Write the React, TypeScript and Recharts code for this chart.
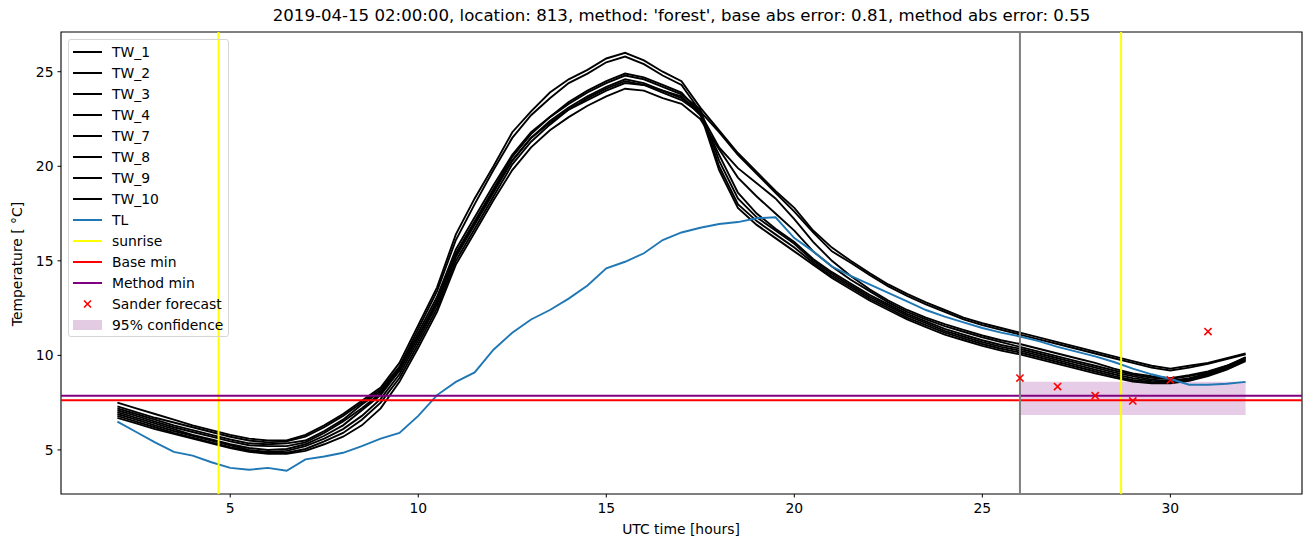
import React from "react";
import {
  ComposedChart,
  Line,
  Scatter,
  XAxis,
  YAxis,
  ReferenceLine,
  ReferenceArea,
  Legend,
} from "recharts";

// hours since midnight of the forecast day, every 30 min
const hours = [
  2, 2.5, 3, 3.5, 4, 4.5, 5, 5.5, 6, 6.5,
  7, 7.5, 8, 8.5, 9, 9.5, 10, 10.5, 11, 11.5,
  12, 12.5, 13, 13.5, 14, 14.5, 15, 15.5, 16, 16.5,
  17, 17.5, 18, 18.5, 19, 19.5, 20, 20.5, 21, 21.5,
  22, 22.5, 23, 23.5, 24, 24.5, 25, 25.5, 26, 26.5,
  27, 27.5, 28, 28.5, 29, 29.5, 30, 30.5, 31, 31.5, 32,
];

const tw1 = [
  7.5, 7.2, 6.9, 6.6, 6.3, 6.05, 5.8, 5.6, 5.5, 5.5,
  5.8, 6.3, 6.9, 7.6, 8.3, 9.6, 11.6, 13.6, 16.4, 18.3,
  20.0, 21.8, 22.9, 23.9, 24.6, 25.1, 25.7, 26.0, 25.6, 25.0,
  24.5, 23.1, 21.9, 20.7, 19.7, 18.7, 17.8, 16.6, 15.7, 15.0,
  14.35, 13.75, 13.25, 12.8, 12.4, 12.0, 11.7, 11.45, 11.2, 10.95,
  10.7, 10.45, 10.2, 9.95, 9.7, 9.45, 9.3, 9.45, 9.6, 9.85, 10.1,
];
const tw2 = [
  7.3, 7.0, 6.7, 6.45, 6.2, 5.95, 5.7, 5.5, 5.4, 5.45,
  5.7, 6.2, 6.8, 7.5, 8.2, 9.4, 11.4, 13.4, 16.1, 18.0,
  19.8, 21.5, 22.7, 23.6, 24.4, 24.9, 25.5, 25.8, 25.4, 24.8,
  24.3, 22.9, 21.8, 20.6, 19.6, 18.6, 17.6, 16.5, 15.5, 14.9,
  14.25, 13.65, 13.15, 12.7, 12.3, 11.9, 11.6, 11.35, 11.1, 10.85,
  10.6, 10.35, 10.1, 9.85, 9.6, 9.35, 9.2, 9.35, 9.55, 9.8, 10.05,
];
const tw3 = [
  7.2, 6.9, 6.6, 6.3, 6.05, 5.8, 5.55, 5.35, 5.3, 5.35,
  5.5, 6.0, 6.6, 7.4, 8.1, 9.3, 11.2, 13.1, 15.6, 17.3,
  19.0, 20.6, 21.8, 22.6, 23.4, 24.0, 24.5, 24.9, 24.7, 24.3,
  23.9, 22.8, 21.0, 19.9, 19.1, 18.3, 17.2, 16.0, 15.0, 14.2,
  13.5, 12.9, 12.4, 12.0, 11.65, 11.35, 11.05, 10.8, 10.6, 10.35,
  10.1, 9.85, 9.6, 9.3, 9.05, 8.9, 8.8, 8.95, 9.15, 9.45, 9.85,
];
const tw4 = [
  7.0, 6.7, 6.4, 6.1, 5.8, 5.55, 5.3, 5.1, 5.0, 5.05,
  5.3, 5.75, 6.3, 7.1, 7.9, 9.2, 11.0, 12.9, 15.4, 17.1,
  18.8, 20.5, 21.7, 22.6, 23.3, 23.9, 24.4, 24.8, 24.6, 24.2,
  23.8, 23.0, 20.3, 18.3, 17.3, 16.6, 15.9, 15.0, 14.3, 13.7,
  13.1, 12.6, 12.1, 11.7, 11.3, 11.0, 10.7, 10.45, 10.25, 10.0,
  9.75, 9.5, 9.25, 9.0, 8.8, 8.65, 8.6, 8.75, 9.0, 9.35, 9.8,
];
const tw7 = [
  6.9, 6.6, 6.3, 6.0, 5.75, 5.5, 5.25, 5.0, 4.9, 4.95,
  5.2, 5.6, 6.1, 6.8, 7.7, 9.0, 10.8, 12.7, 15.2, 16.9,
  18.6, 20.3, 21.5, 22.4, 23.1, 23.7, 24.2, 24.6, 24.4, 24.0,
  23.6, 22.9, 20.0, 18.0, 17.1, 16.4, 15.7, 14.9, 14.2, 13.6,
  13.0, 12.5, 12.0, 11.6, 11.2, 10.9, 10.6, 10.35, 10.15, 9.9,
  9.65, 9.4, 9.15, 8.9, 8.7, 8.58, 8.55, 8.7, 8.95, 9.3, 9.75,
];
const tw8 = [
  6.8, 6.5, 6.2, 5.9, 5.65, 5.4, 5.15, 4.95, 4.85, 4.85,
  5.05, 5.45, 5.9, 6.6, 7.5, 8.8, 10.6, 12.5, 15.0, 16.7,
  18.4, 20.1, 21.3, 22.2, 23.0, 23.6, 24.1, 24.5, 24.3, 23.9,
  23.5, 22.8, 19.8, 17.8, 16.9, 16.2, 15.5, 14.8, 14.1, 13.5,
  12.9, 12.4, 11.9, 11.5, 11.1, 10.8, 10.5, 10.25, 10.05, 9.8,
  9.55, 9.3, 9.05, 8.82, 8.62, 8.52, 8.52, 8.65, 8.9, 9.25, 9.7,
];
const tw9 = [
  7.1, 6.8, 6.5, 6.2, 5.95, 5.7, 5.45, 5.25, 5.2, 5.2,
  5.4, 5.9, 6.5, 7.2, 8.0, 9.2, 11.0, 12.8, 15.3, 17.0,
  18.7, 20.3, 21.5, 22.3, 23.0, 23.5, 24.0, 24.4, 24.3, 24.0,
  23.7, 22.7, 20.6, 18.6, 17.5, 16.7, 16.0, 15.1, 14.4, 13.8,
  13.2, 12.7, 12.2, 11.8, 11.4, 11.1, 10.8, 10.55, 10.35, 10.1,
  9.85, 9.6, 9.35, 9.1, 8.9, 8.72, 8.65, 8.8, 9.05, 9.4, 9.9,
];
const tw10 = [
  6.7, 6.4, 6.1, 5.85, 5.6, 5.35, 5.1, 4.9, 4.8, 4.8,
  4.95, 5.3, 5.7, 6.3, 7.2, 8.6, 10.4, 12.3, 14.8, 16.5,
  18.2, 19.8, 21.0, 21.9, 22.6, 23.2, 23.7, 24.1, 24.0, 23.6,
  23.3, 22.5, 20.9, 19.4, 18.4, 17.5, 16.6, 15.5, 14.7, 14.0,
  13.4, 12.8, 12.3, 11.9, 11.55, 11.25, 10.95, 10.7, 10.45, 10.2,
  9.95, 9.7, 9.45, 9.2, 8.98, 8.82, 8.75, 8.9, 9.1, 9.45, 9.9,
];
const tl = [
  6.5, 5.95, 5.4, 4.9, 4.7, 4.35, 4.05, 3.95, 4.05, 3.9,
  4.5, 4.65, 4.85, 5.2, 5.6, 5.9, 6.8, 7.9, 8.6, 9.1,
  10.3, 11.2, 11.9, 12.4, 13.0, 13.7, 14.6, 14.95, 15.4, 16.1,
  16.5, 16.75, 16.95, 17.05, 17.25, 17.3, 16.2, 15.5, 14.7, 14.2,
  13.75, 13.3, 12.85, 12.4, 12.05, 11.75, 11.45, 11.2, 11.0, 10.75,
  10.45, 10.2, 9.95, 9.65, 9.3, 9.0, 8.75, 8.45, 8.45, 8.5, 8.6,
];

const sanderHours = [26, 27, 28, 29, 30, 31];
const sanderTemp = [8.8, 8.35, 7.87, 7.59, 8.7, 11.26];

const sunrise = [4.69, 28.69];
const forecastHour = 26;
const baseMin = 7.63;
const methodMin = 7.86;
const confLow = 6.85;
const confHigh = 8.6;
const confStart = 26;
const confEnd = 32;

const xTicks = [5, 10, 15, 20, 25, 30];
const yTicks = [5, 10, 15, 20, 25];
const xDomain = [0.5, 33.5];
const yDomain = [2.67, 27.1];

const twSeries = [
  { key: "TW_1", values: tw1 },
  { key: "TW_2", values: tw2 },
  { key: "TW_3", values: tw3 },
  { key: "TW_4", values: tw4 },
  { key: "TW_7", values: tw7 },
  { key: "TW_8", values: tw8 },
  { key: "TW_9", values: tw9 },
  { key: "TW_10", values: tw10 },
];

const data = hours.map((t, i) => {
  const row: Record<string, number> = { t, TL: tl[i] };
  twSeries.forEach((s) => (row[s.key] = s.values[i]));
  return row;
});

const sanderData = sanderHours.map((t, i) => ({ t, y: sanderTemp[i] }));

const FONT = "'DejaVu Sans', sans-serif";
const FS = 13.9;

const legendItems = [
  ...twSeries.map((s) => ({ label: s.key, kind: "line", color: "#000" })),
  { label: "TL", kind: "line", color: "#1f77b4" },
  { label: "sunrise", kind: "line", color: "#ffff00" },
  { label: "Base min", kind: "line", color: "#ff0000" },
  { label: "Method min", kind: "line", color: "#800080" },
  { label: "Sander forecast", kind: "cross", color: "#ff0000" },
  { label: "95% confidence", kind: "patch", color: "#e3cce3" },
];

function LegendBox() {
  return (
    <div
      style={{
        width: 159,
        height: 296,
        border: "1px solid #d6d6d6",
        borderRadius: 3,
        fontFamily: FONT,
        fontSize: FS,
        color: "#000",
        position: "relative",
      }}
    >
      {legendItems.map((it, i) => (
        <div
          key={it.label}
          style={{
            position: "absolute",
            left: 0,
            top: 3.5 + i * 21.03,
            height: 16,
            display: "flex",
            alignItems: "center",
            whiteSpace: "nowrap",
          }}
        >
          <svg width={43} height={16} style={{ display: "block" }}>
            {it.kind === "line" && (
              <line x1={4} x2={33} y1={8} y2={8} stroke={it.color} strokeWidth={2} />
            )}
            {it.kind === "cross" && (
              <path
                d="M15,4.5L22,11.5M15,11.5L22,4.5"
                stroke={it.color}
                strokeWidth={1.6}
              />
            )}
            {it.kind === "patch" && (
              <rect x={4} y={3} width={29} height={10} fill={it.color} />
            )}
          </svg>
          <span>{it.label}</span>
        </div>
      ))}
    </div>
  );
}

const Cross = (props: any) => {
  const { cx, cy } = props;
  if (cx == null || cy == null) return null;
  const r = 3.6;
  return (
    <path
      d={`M${cx - r},${cy - r}L${cx + r},${cy + r}M${cx - r},${cy + r}L${cx + r},${cy - r}`}
      stroke="#ff0000"
      strokeWidth={1.6}
      fill="none"
    />
  );
};

export default function App() {
  return (
    <div
      style={{
        position: "absolute",
        left: 0,
        top: 0,
        width: 1310,
        height: 547,
        background: "#fff",
      }}
    >
      <div
        style={{
          position: "absolute",
          left: 61,
          width: 1241,
          top: 6,
          textAlign: "center",
          fontFamily: FONT,
          fontSize: 16.6,
          lineHeight: "20px",
          color: "#000",
          whiteSpace: "nowrap",
        }}
      >
        2019-04-15 02:00:00, location: 813, method: 'forest', base abs error: 0.81, method abs error: 0.55
      </div>
      <ComposedChart
        width={1310}
        height={547}
        data={data}
        margin={{ top: 32, right: 8, bottom: 0, left: 0 }}
      >
        <ReferenceArea
          x1={confStart}
          x2={confEnd}
          y1={confLow}
          y2={confHigh}
          fill="#800080"
          fillOpacity={0.2}
          stroke="none"
        />
        <XAxis
          dataKey="t"
          type="number"
          domain={xDomain}
          ticks={xTicks}
          allowDataOverflow
          height={53}
          axisLine={false}
          tickLine={{ stroke: "#000" }}
          tickSize={3.5}
          tickMargin={6}
          tick={{ fill: "#000", fontSize: FS, fontFamily: FONT }}
          label={{
            content: () => (
              <text
                x={681}
                y={534}
                textAnchor="middle"
                fontFamily={FONT}
                fontSize={FS}
                fill="#000"
              >
                UTC time [hours]
              </text>
            ),
          }}
        />
        <YAxis
          type="number"
          domain={yDomain}
          ticks={yTicks}
          allowDataOverflow
          width={61}
          axisLine={false}
          tickLine={{ stroke: "#000" }}
          tickSize={3.5}
          tickMargin={4}
          tick={{ fill: "#000", fontSize: FS, fontFamily: FONT }}
          label={{
            content: () => (
              <text
                x={22}
                y={264}
                transform="rotate(-90 22 264)"
                textAnchor="middle"
                fontFamily={FONT}
                fontSize={FS}
                fill="#000"
              >
                Temperature [ °C]
              </text>
            ),
          }}
        />
        {twSeries.map((s) => (
          <Line
            key={s.key}
            dataKey={s.key}
            type="linear"
            stroke="#000"
            strokeWidth={1.9}
            dot={false}
            activeDot={false}
            isAnimationActive={false}
          />
        ))}
        <Line
          dataKey="TL"
          type="linear"
          stroke="#1f77b4"
          strokeWidth={1.9}
          dot={false}
          activeDot={false}
          isAnimationActive={false}
        />
        {sunrise.map((x) => (
          <ReferenceLine key={x} x={x} stroke="#ffff00" strokeWidth={2} />
        ))}
        <ReferenceLine y={baseMin} stroke="#ff0000" strokeWidth={2} />
        <ReferenceLine y={methodMin} stroke="#800080" strokeWidth={2} />
        <Scatter
          data={sanderData}
          dataKey="y"
          shape={Cross}
          isAnimationActive={false}
        />
        <ReferenceLine x={forecastHour} stroke="#808080" strokeWidth={2} />
        <ReferenceArea
          x1={xDomain[0]}
          x2={xDomain[1]}
          y1={yDomain[0]}
          y2={yDomain[1]}
          fill="none"
          stroke="#000"
          strokeWidth={1.1}
        />
        <Legend
          layout="vertical"
          align="center"
          verticalAlign="middle"
          content={() => <LegendBox />}
          wrapperStyle={{ left: 68, top: 39, width: 161, height: 298 }}
        />
      </ComposedChart>
    </div>
  );
}
